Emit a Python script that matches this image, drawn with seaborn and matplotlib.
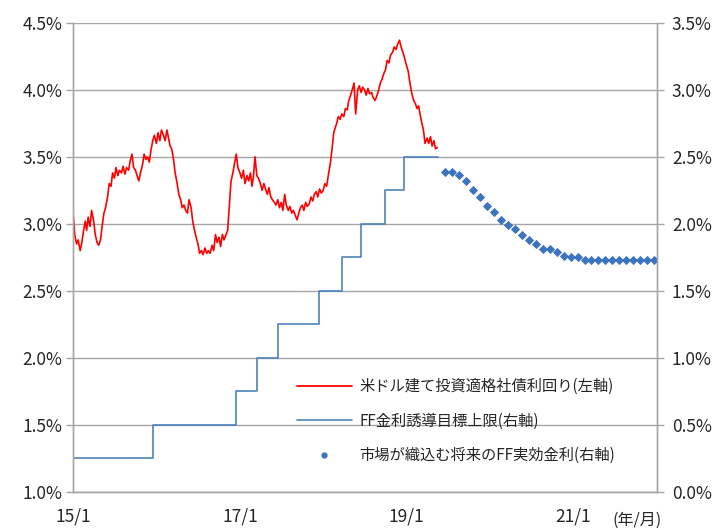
import numpy as np
import pandas as pd
import matplotlib
matplotlib.use('Agg')
import matplotlib.pyplot as plt
import seaborn as sns
from matplotlib.lines import Line2D
from matplotlib.ticker import FuncFormatter

# ---------------------- Data ------------------------------------------------------------------

# US dollar investment grade corporate bond yield (%), four readings per month, Jan 2015 - May 2019
red_values = [
    3.08, 2.92, 2.85, 2.88,  2.80, 2.86, 2.95, 3.02,  2.95, 3.05, 2.98, 3.10,
    3.02, 2.92, 2.86, 2.84,  2.88, 2.98, 3.08, 3.12,  3.20, 3.30, 3.28, 3.38,
    3.34, 3.42, 3.36, 3.40,  3.38, 3.43, 3.37, 3.42,  3.40, 3.47, 3.52, 3.42,
    3.40, 3.36, 3.32, 3.38,  3.44, 3.52, 3.48, 3.50,  3.46, 3.55, 3.62, 3.66,
    3.60, 3.68, 3.62, 3.70,  3.66, 3.62, 3.70, 3.64,  3.58, 3.56, 3.48, 3.38,
    3.30, 3.22, 3.18, 3.12,  3.14, 3.10, 3.08, 3.18,  3.12, 3.02, 2.95, 2.90,
    2.85, 2.78, 2.80, 2.77,  2.82, 2.78, 2.80, 2.78,  2.84, 2.80, 2.92, 2.86,
    2.90, 2.83, 2.92, 2.88,  2.92, 2.95, 3.15, 3.32,  3.38, 3.45, 3.52, 3.42,
    3.38, 3.34, 3.40, 3.30,  3.36, 3.32, 3.38, 3.28,  3.35, 3.50, 3.36, 3.34,
    3.30, 3.25, 3.30, 3.26,  3.22, 3.27, 3.20, 3.18,  3.16, 3.14, 3.18, 3.12,
    3.16, 3.10, 3.22, 3.14,  3.10, 3.13, 3.08, 3.10,  3.06, 3.03, 3.08, 3.12,
    3.14, 3.10, 3.16, 3.13,  3.15, 3.20, 3.17, 3.22,  3.24, 3.20, 3.26, 3.23,
    3.25, 3.30, 3.28, 3.36,  3.45, 3.55, 3.68, 3.72,  3.75, 3.80, 3.78, 3.82,
    3.80, 3.86, 3.85, 3.92,  3.96, 4.00, 4.05, 3.82,  4.00, 4.03, 3.98, 4.02,
    4.00, 3.96, 4.01, 3.97,  3.98, 3.94, 3.92, 3.95,  4.00, 4.05, 4.08, 4.12,
    4.15, 4.22, 4.20, 4.26,  4.28, 4.32, 4.30, 4.34,  4.37, 4.32, 4.28, 4.24,
    4.18, 4.14, 4.05, 3.98,  3.92, 3.90, 3.86, 3.88,  3.82, 3.76, 3.70, 3.60,
    3.64, 3.60, 3.65, 3.58,  3.62, 3.56, 3.57,
]
red_day_offsets = [0, 7, 15, 22]

# FF target upper bound (%)
ff_dates = ['2015-01-01', '2015-12-17', '2016-12-15', '2017-03-16', '2017-06-15',
            '2017-12-14', '2018-03-22', '2018-06-14', '2018-09-27', '2018-12-20', '2019-05-20']
ff_values = [0.25, 0.50, 0.75, 1.00, 1.25, 1.50, 1.75, 2.00, 2.25, 2.50, 2.50]

# market implied future FF effective rate (%), monthly from Jun 2019
fut_values = [2.39, 2.39, 2.365, 2.32, 2.25, 2.20, 2.13, 2.09, 2.03, 1.99,
              1.96, 1.92, 1.88, 1.85, 1.81, 1.81, 1.79, 1.76, 1.755, 1.75,
              1.73, 1.73, 1.73, 1.73, 1.73, 1.73, 1.73, 1.73, 1.73, 1.73, 1.73]

tick_dates = ['2015-01-01', '2017-01-01', '2019-01-01', '2021-01-01']
tick_labels = ['15/1', '17/1', '19/1', '21/1']

labels = ['米ドル建て投資適格社債利回り(左軸)', 'FF金利誘導目標上限(右軸)', '市場が織込む将来のFF実効金利(右軸)']

# ---------------------- Frames ----------------------------------------------------------------

months = pd.date_range('2015-01-01', periods=int(np.ceil(len(red_values) / 4)), freq='MS')
red_dates = [m + pd.Timedelta(days=d) for m in months for d in red_day_offsets][:len(red_values)]
red_df = pd.DataFrame({'date': red_dates, 'value': red_values})
ff_df = pd.DataFrame({'date': pd.to_datetime(ff_dates), 'value': ff_values})
fut_dates = pd.date_range('2019-06-01', periods=len(fut_values), freq='MS') + pd.Timedelta(days=19)
fut_df = pd.DataFrame({'date': fut_dates, 'value': fut_values})

# ---------------------- Plot ------------------------------------------------------------------

sns.set_style('white')
plt.rcParams['font.family'] = ['Noto Sans CJK JP', 'DejaVu Sans']

RED = '#FF0000'
BLUE_LINE = '#4F81BD'
BLUE_DOT = '#3C74C0'
GRID = '#A6A6A6'
TXT = '#262626'

fig = plt.figure(figsize=(7.24, 5.30), dpi=100)
ax = fig.add_axes([0.101, 0.072, 0.806, 0.885])
ax2 = ax.twinx()

sns.lineplot(data=red_df, x='date', y='value', ax=ax, color=RED, linewidth=1.2)
sns.lineplot(data=ff_df, x='date', y='value', ax=ax2, color=BLUE_LINE, linewidth=1.2,
             drawstyle='steps-post')
sns.scatterplot(data=fut_df, x='date', y='value', ax=ax2, color=BLUE_DOT, marker='D',
                s=22, edgecolor=BLUE_DOT, linewidth=0)

ax.set_ylim(1.0, 4.5)
ax2.set_ylim(0.0, 3.5)
ax.set_yticks(np.arange(1.0, 4.51, 0.5))
ax2.set_yticks(np.arange(0.0, 3.51, 0.5))
ax.yaxis.set_major_formatter(FuncFormatter(lambda v, p: '{:.1f}%'.format(v)))
ax2.yaxis.set_major_formatter(FuncFormatter(lambda v, p: '{:.1f}%'.format(v)))

ax.set_xlim(pd.Timestamp('2015-01-01'), pd.Timestamp('2022-01-01'))
ax.set_xticks(pd.to_datetime(tick_dates))
ax.set_xticklabels(tick_labels)

ax.grid(axis='y', color=GRID, linewidth=1.0)
ax.set_axisbelow(True)
for a in (ax, ax2):
    a.set_xlabel('')
    a.set_ylabel('')
    a.spines['top'].set_visible(False)
    for s in ('left', 'right', 'bottom'):
        a.spines[s].set_color(GRID)
        a.spines[s].set_linewidth(1.0)
    a.tick_params(axis='both', colors=GRID, labelcolor=TXT, length=5, width=1.0,
                  labelsize=12.5, direction='out')
ax.tick_params(axis='x', pad=6)
ax.tick_params(axis='y', pad=3)
ax2.tick_params(axis='y', pad=6)

ax.text(0.925, -0.06, '(年/月)', transform=ax.transAxes, fontsize=11.5, color=TXT,
        ha='left', va='center')

handles = [Line2D([], [], color=RED, linewidth=1.3),
           Line2D([], [], color=BLUE_LINE, linewidth=1.2),
           Line2D([], [], color=BLUE_DOT, marker='o', linestyle='', markersize=3.5)]
ax2.legend(handles, labels, loc='lower left', bbox_to_anchor=(0.36, 0.03), frameon=False,
           fontsize=11, handlelength=3.6, labelspacing=1.15, handletextpad=0.5,
           labelcolor=TXT)

fig.savefig('out.png', dpi=100)
